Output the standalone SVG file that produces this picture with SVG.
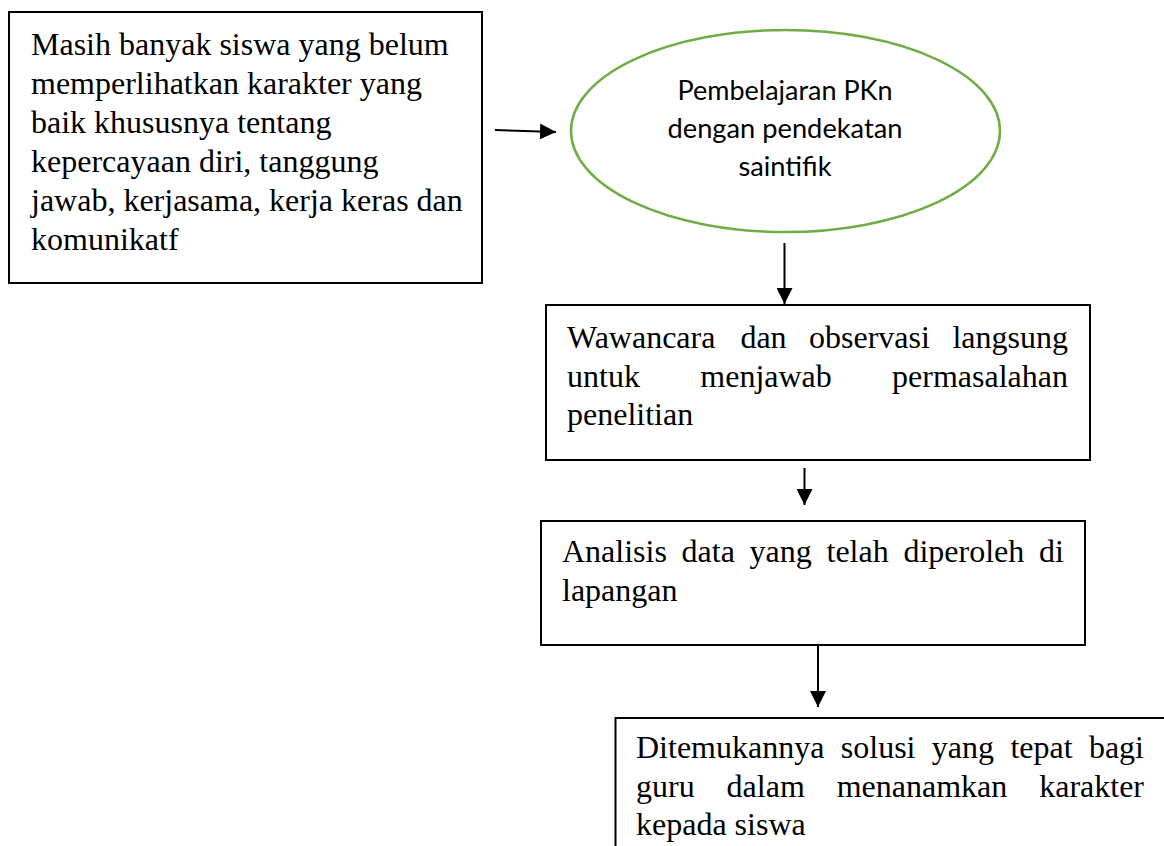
<svg xmlns="http://www.w3.org/2000/svg" width="1164" height="846" viewBox="0 0 1164 846">
  <style>
    .box { fill: #ffffff; stroke: #000000; stroke-width: 2; }
    .oval { fill: #ffffff; stroke: #70AD47; stroke-width: 2.5; }
    .serif { font-family: "Liberation Serif", "Times New Roman", serif; font-size: 32px; fill: #000000; }
    .sans { font-family: Lato, "Open Sans", sans-serif; font-size: 26px; fill: #000000; text-anchor: middle; }
    .end { text-anchor: end; }
    .link { fill: none; stroke: #000000; stroke-width: 2; }
  </style>
  <defs>
    <marker id="head" markerUnits="userSpaceOnUse" markerWidth="16" markerHeight="16" refX="16" refY="8" orient="auto">
      <path d="M0,0 L16,8 L0,16 Z" fill="#000000"/>
    </marker>
  </defs>

  <rect width="1164" height="846" fill="#ffffff"/>

  <g id="node-problem">
    <rect class="box" x="9" y="12" width="473" height="271"/>
    <text class="serif" x="31" y="55">Masih banyak siswa yang belum</text>
    <text class="serif" x="31" y="94">memperlihatkan karakter yang</text>
    <text class="serif" x="31" y="133">baik khususnya tentang</text>
    <text class="serif" x="31" y="172">kepercayaan diri, tanggung</text>
    <text class="serif" x="31" y="211">jawab, kerjasama, kerja keras dan</text>
    <text class="serif" x="31" y="250">komunikatf</text>
  </g>

  <g id="node-learning">
    <ellipse class="oval" cx="785.5" cy="131" rx="214.5" ry="101"/>
    <text class="sans" x="785" y="100" textLength="215" lengthAdjust="spacingAndGlyphs">Pembelajaran PKn</text>
    <text class="sans" x="785" y="138" textLength="235" lengthAdjust="spacingAndGlyphs">dengan pendekatan</text>
    <text class="sans" x="785" y="176" textLength="93" lengthAdjust="spacingAndGlyphs">saintifik</text>
  </g>

  <g id="node-interview">
    <rect class="box" x="546" y="305" width="544" height="155"/>
    <text class="serif" y="348"><tspan x="567">Wawancara</tspan><tspan x="740.4">dan</tspan><tspan x="809">observasi</tspan></text>
    <text class="serif end" x="1068" y="348">langsung</text>
    <text class="serif" y="387"><tspan x="567">untuk</tspan><tspan x="700.3">menjawab</tspan></text>
    <text class="serif end" x="1068" y="387">permasalahan</text>
    <text class="serif" x="567" y="425">penelitian</text>
  </g>

  <g id="node-analysis">
    <rect class="box" x="541" y="521" width="544" height="124"/>
    <text class="serif" y="562"><tspan x="562">Analisis</tspan><tspan x="681.6">data</tspan><tspan x="749.6">yang</tspan><tspan x="826.5">telah</tspan><tspan x="903.4">diperoleh</tspan></text>
    <text class="serif end" x="1064" y="562">di</text>
    <text class="serif" x="562" y="601">lapangan</text>
  </g>

  <g id="node-solution">
    <path class="box" d="M1170,718 H615.5 V852"/>
    <text class="serif" y="758"><tspan x="636">Ditemukannya</tspan><tspan x="840.8">solusi</tspan><tspan x="931.8">yang</tspan><tspan x="1010.4">tepat</tspan></text>
    <text class="serif end" x="1144" y="758">bagi</text>
    <text class="serif" y="797"><tspan x="636">guru</tspan><tspan x="726.6">dalam</tspan><tspan x="836.7">menanamkan</tspan></text>
    <text class="serif end" x="1144" y="797">karakter</text>
    <text class="serif" x="636" y="835">kepada siswa</text>
  </g>

  <g id="connectors">
    <line class="link" x1="495" y1="130" x2="556" y2="132" marker-end="url(#head)"/>
    <line class="link" x1="784.5" y1="243" x2="784.5" y2="304" marker-end="url(#head)"/>
    <line class="link" x1="804.5" y1="468" x2="804.5" y2="505" marker-end="url(#head)"/>
    <line class="link" x1="818" y1="645" x2="818" y2="707" marker-end="url(#head)"/>
  </g>
</svg>
